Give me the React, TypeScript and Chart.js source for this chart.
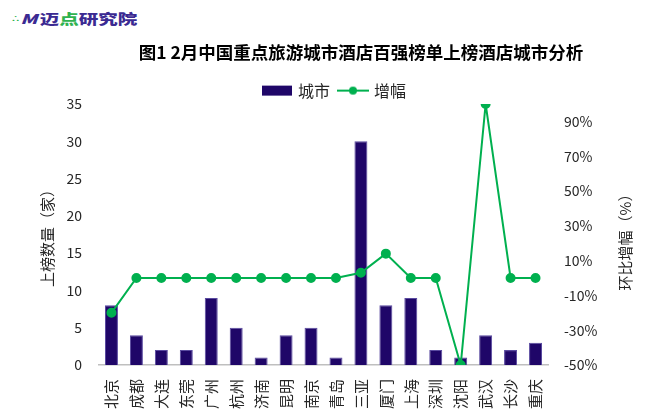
import React, { useEffect, useRef } from "react";
import { Chart, registerables } from "chart.js";

Chart.register(...registerables);

const categories = ["北京", "成都", "大连", "东莞", "广州", "杭州", "济南", "昆明", "南京", "青岛", "三亚", "厦门", "上海", "深圳", "沈阳", "武汉", "长沙", "重庆"];
const cityCounts = [8, 4, 2, 2, 9, 5, 1, 4, 5, 1, 30, 8, 9, 2, 1, 4, 2, 3];
const growthPct = [-20, 0, 0, 0, 0, 0, 0, 0, 0, 0, 3, 14, 0, 0, -50, 100, 0, 0];
const leftTicks = [0, 5, 10, 15, 20, 25, 30, 35];
const rightTicks = [-50, -30, -10, 10, 30, 50, 70, 90];

const BAR = "#1f0668";
const GREEN = "#00b04f";
const TEXT = "#262626";
const FONT = "'Noto Sans CJK SC', 'Open Sans', sans-serif";
const RIGHT_TITLE = "环比增幅（%）";

function legendImage(kind: "bar" | "line") {
  const c = document.createElement("canvas");
  c.width = 32;
  c.height = 12;
  const ctx = c.getContext("2d")!;
  if (kind === "bar") {
    ctx.fillStyle = BAR;
    ctx.fillRect(1, 1, 30, 10);
  } else {
    ctx.strokeStyle = GREEN;
    ctx.lineWidth = 2;
    ctx.beginPath();
    ctx.moveTo(0, 6);
    ctx.lineTo(32, 6);
    ctx.stroke();
    ctx.fillStyle = GREEN;
    ctx.beginPath();
    ctx.arc(16, 6, 4, 0, Math.PI * 2);
    ctx.fill();
  }
  return c;
}

const layoutTweak = {
  id: "layoutTweak",
  afterLayout(chart: any) {
    if (chart.legend) {
      chart.legend.top += 4.6;
      chart.legend.bottom += 4.6;
    }
    if (chart.titleBlock) {
      chart.titleBlock.left += 26;
      chart.titleBlock.right += 26;
    }
  },
  afterDraw(chart: any) {
    const { ctx, chartArea } = chart;
    ctx.save();
    ctx.translate(625, (chartArea.top + chartArea.bottom) / 2 + 4);
    ctx.rotate(-Math.PI / 2);
    ctx.textAlign = "center";
    ctx.textBaseline = "middle";
    ctx.fillStyle = TEXT;
    ctx.font = `15px ${FONT}`;
    ctx.fillText(RIGHT_TITLE, 0, 0);
    ctx.restore();
  },
};

export default function App() {
  const ref = useRef<HTMLCanvasElement>(null);
  useEffect(() => {
    const barImg = legendImage("bar");
    const lineImg = legendImage("line");
    const chart = new Chart(ref.current!, {
      type: "bar",
      data: {
        labels: categories,
        datasets: [
          {
            type: "bar",
            label: "城市",
            data: cityCounts,
            backgroundColor: BAR,
            borderColor: "#5a4aa0",
            borderWidth: 1,
            yAxisID: "y",
            barPercentage: 0.52,
            categoryPercentage: 1,
            order: 1,
          },
          {
            type: "line",
            label: "增幅",
            data: growthPct,
            borderColor: GREEN,
            backgroundColor: GREEN,
            borderWidth: 2,
            pointRadius: 4,
            pointBackgroundColor: GREEN,
            pointBorderColor: GREEN,
            yAxisID: "y1",
            tension: 0,
            order: 0,
          } as any,
        ],
      },
      plugins: [layoutTweak],
      options: {
        animation: false,
        responsive: false,
        maintainAspectRatio: false,
        layout: { padding: { left: 20, right: 0, top: 0, bottom: 0 } },
        plugins: {
          title: {
            display: true,
            text: "图1 2月中国重点旅游城市酒店百强榜单上榜酒店城市分析",
            color: "#000",
            font: { family: FONT, size: 17.5, weight: "bold" },
            padding: { top: 42, bottom: 5 },
          },
          legend: {
            display: true,
            labels: {
              usePointStyle: true,
              pointStyleWidth: 26,
              boxHeight: 12,
              color: TEXT,
              font: { family: FONT, size: 16 },
              padding: 10,
              sort: (a: any, b: any) => a.datasetIndex - b.datasetIndex,
              generateLabels: (ch: any) => {
                const base = (Chart.defaults.plugins.legend.labels as any).generateLabels(ch);
                return base.map((l: any) => ({ ...l, pointStyle: l.datasetIndex === 0 ? barImg : lineImg, lineWidth: 0 }));
              },
            },
          },
          tooltip: { enabled: false },
        },
        scales: {
          x: {
            grid: { display: false },
            border: { display: true, color: "#bfbfbf", width: 1.5 },
            ticks: {
              color: TEXT,
              font: { family: FONT, size: 15 },
              minRotation: 90,
              maxRotation: 90,
              autoSkip: false,
              padding: 6,
            },
            afterFit: (s: any) => {
              s.height = 52;
            },
          },
          y: {
            position: "left",
            min: 0,
            max: 35,
            grid: { display: false, drawTicks: false },
            border: { display: false },
            ticks: { color: TEXT, font: { family: FONT, size: 14 }, padding: 17 },
            afterBuildTicks: (s: any) => {
              s.ticks = leftTicks.map((v) => ({ value: v }));
            },
            title: {
              display: true,
              text: "上榜数量（家）",
              color: TEXT,
              font: { family: FONT, size: 15 },
              padding: { top: 18, bottom: 0 },
            },
            afterFit: (s: any) => {
              s.width = 79;
            },
          },
          y1: {
            position: "right",
            min: -50,
            max: 100,
            grid: { display: false, drawTicks: false },
            border: { display: false },
            ticks: {
              color: TEXT,
              font: { family: FONT, size: 14 },
              padding: 16,
              callback: (v: any) => v + "%",
            },
            afterBuildTicks: (s: any) => {
              s.ticks = rightTicks.map((v) => ({ value: v }));
            },
            title: { display: false },
            afterFit: (s: any) => {
              s.width = 102;
            },
          },
        },
      } as any,
    });
    return () => chart.destroy();
  }, []);

  return (
    <div style={{ position: "fixed", left: 0, top: 0, width: 650, height: 417, background: "#fff" }}>
      <div
        style={{
          position: "absolute",
          left: 11,
          top: 11,
          fontFamily: FONT,
          fontWeight: 900,
          fontSize: 17,
          lineHeight: "17px",
          color: "#3b2a92",
          whiteSpace: "nowrap",
          transform: "scale(1.15, 0.8)",
          transformOrigin: "left top",
        }}
      >
        <span style={{ color: "#2fb24f", fontSize: 8, verticalAlign: "top" }}>∴</span>
        <span style={{ fontStyle: "italic" }}>M</span>
        <span style={{ marginLeft: 2 }}>迈</span>
        <span style={{ color: "#2fb24f" }}>点</span>研究院
      </div>
      <canvas ref={ref} width={650} height={417} style={{ position: "absolute", left: 0, top: 0 }} />
    </div>
  );
}
